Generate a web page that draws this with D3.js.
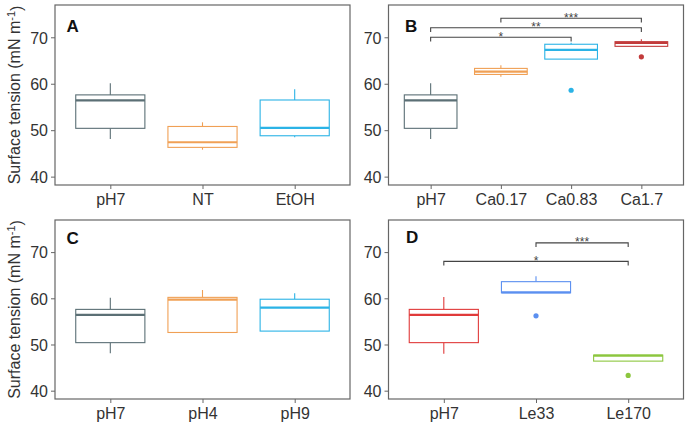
<!DOCTYPE html>
<html>
<head>
<meta charset="utf-8">
<script src="https://cdn.jsdelivr.net/npm/d3@7"></script>
<style>
  html, body { margin: 0; padding: 0; background: #fff; }
  svg { display: block; font-family: "Liberation Sans", Arial, sans-serif; }
</style>
</head>
<body>
<svg id="chart" width="685" height="424"></svg>
<script>
// ---------------- data ----------------
const yTicks = [40, 50, 60, 70];
const yDomain = [38.2, 76.95];

// five-number summaries: [lower whisker, Q1, median, Q3, upper whisker]
const catsA = ["pH7", "NT", "EtOH"];
const statsA = [[48.1, 50.4, 56.4, 57.6, 60.1], [45.8, 46.3, 47.4, 50.8, 51.7], [48.5, 48.8, 50.5, 56.5, 58.8]];
const outliersA = [[], [], []];

const catsB = ["pH7", "Ca0.17", "Ca0.83", "Ca1.7"];
const statsB = [[48.1, 50.4, 56.4, 57.6, 60.1], [61.5, 62.0, 62.6, 63.3, 64.0], [65.3, 65.3, 67.3, 68.5, 68.8], [68.0, 68.05, 68.8, 69.05, 69.6]];
const outliersB = [[], [], [58.6], [65.8]];
const bracketsB = [
  { from: "pH7", to: "Ca0.83", y: 70.0, label: "*" },
  { from: "pH7", to: "Ca1.7", y: 72.05, label: "**" },
  { from: "Ca0.17", to: "Ca1.7", y: 74.1, label: "***" }
];

const catsC = ["pH7", "pH4", "pH9"];
const statsC = [[48.1, 50.4, 56.4, 57.6, 60.1], [52.6, 52.6, 59.7, 60.2, 61.8], [52.9, 52.9, 58.0, 59.8, 61.1]];
const outliersC = [[], [], []];

const catsD = ["pH7", "Le33", "Le170"];
const statsD = [[48.0, 50.4, 56.4, 57.6, 60.3], [61.2, 61.2, 61.3, 63.6, 64.8], [46.4, 46.4, 47.6, 47.7, 47.8]];
const outliersD = [[], [56.2], [43.3]];
const bracketsD = [
  { from: "pH7", to: "Le170", y: 68.0, label: "*" },
  { from: "Le33", to: "Le170", y: 72.0, label: "***" }
];

const tipLength = 0.9; // bracket tip length in data units

// ---------------- styles ----------------
const colorsA = ["#5b6f75", "#f0a055", "#2bb3e6"];
const colorsB = ["#5b6f75", "#f0a055", "#2bb3e6", "#c23b3b"];
const colorsC = ["#5b6f75", "#f0a055", "#2bb3e6"];
const colorsD = ["#e03a3a", "#5b8ff0", "#8cc63e"];

const svg = d3.select("#chart");

function drawPanel(cfg) {
  const { left, right, top, bottom, cats, stats, outliers, colors, brackets, letter, letterDx, letterDy, yTitle } = cfg;
  const g = svg.append("g");
  const x = d3.scalePoint().domain(cats).range([left, right]).padding(0.6);
  const y = d3.scaleLinear().domain(yDomain).range([bottom, top]);
  const bw = x.step() * 0.75;

  // axes
  const yAxis = g.append("g").attr("transform", `translate(${left},0)`)
    .call(d3.axisLeft(y).tickValues(yTicks).tickSize(4).tickPadding(3));
  const xAxis = g.append("g").attr("transform", `translate(0,${bottom})`)
    .call(d3.axisBottom(x).tickSize(4).tickPadding(4));
  [yAxis, xAxis].forEach(a => {
    a.select(".domain").remove();
    a.selectAll(".tick line").attr("stroke", "#666").attr("stroke-width", 1);
    a.selectAll(".tick text").attr("fill", "#333").style("font-size", "16px")
      .style("font-family", "'Liberation Sans', Arial, sans-serif");
  });
  xAxis.selectAll(".tick text").attr("dy", "0.72em");
  yAxis.selectAll(".tick text").attr("dy", "0.36em");

  // boxes
  cats.forEach((c, i) => {
    const [lo, q1, med, q3, hi] = stats[i];
    const cx = x(c);
    const col = colors[i];
    const bg = g.append("g");
    bg.append("line").attr("x1", cx).attr("x2", cx).attr("y1", y(q3)).attr("y2", y(hi))
      .attr("stroke", col).attr("stroke-width", 1.1);
    bg.append("line").attr("x1", cx).attr("x2", cx).attr("y1", y(q1)).attr("y2", y(lo))
      .attr("stroke", col).attr("stroke-width", 1.1);
    bg.append("rect").attr("x", cx - bw / 2).attr("width", bw)
      .attr("y", y(q3)).attr("height", Math.max(0.5, y(q1) - y(q3)))
      .attr("fill", "#fff").attr("stroke", col).attr("stroke-width", 1.1);
    bg.append("line").attr("x1", cx - bw / 2).attr("x2", cx + bw / 2).attr("y1", y(med)).attr("y2", y(med))
      .attr("stroke", col).attr("stroke-width", 2.2);
    outliers[i].forEach(v => {
      bg.append("circle").attr("cx", cx).attr("cy", y(v)).attr("r", 2.6).attr("fill", col);
    });
  });

  // significance brackets
  (brackets || []).forEach(b => {
    const x1 = x(b.from), x2 = x(b.to), yy = y(b.y), yt = y(b.y - tipLength);
    g.append("path").attr("d", `M${x1},${yt}V${yy}H${x2}V${yt}`)
      .attr("fill", "none").attr("stroke", "#444").attr("stroke-width", 1.1);
    g.append("text").attr("x", (x1 + x2) / 2).attr("y", yy + 3.5)
      .attr("text-anchor", "middle").attr("fill", "#444")
      .style("font-size", "12px").text(b.label);
  });

  // panel border
  g.append("rect").attr("x", left).attr("y", top).attr("width", right - left).attr("height", bottom - top)
    .attr("fill", "none").attr("stroke", "#666").attr("stroke-width", 1.2);

  // panel letter
  g.append("text").attr("x", left + letterDx).attr("y", top + letterDy)
    .style("font-size", "17px").style("font-weight", "bold").attr("fill", "#111").text(letter);

  // y title
  if (yTitle) {
    const t = g.append("text")
      .attr("transform", `translate(20,${(top + bottom) / 2}) rotate(-90)`)
      .attr("text-anchor", "middle").attr("fill", "#333").style("font-size", "16px");
    t.append("tspan").text("Surface tension (mN m");
    t.append("tspan").attr("dy", "-0.45em").style("font-size", "11px").text("-1");
    t.append("tspan").attr("dy", "0.45em").text(")");
  }
}

drawPanel({ left: 55, right: 350, top: 5, bottom: 185, cats: catsA, stats: statsA, outliers: outliersA,
  colors: colorsA, brackets: [], letter: "A", letterDx: 11.5, letterDy: 27, yTitle: true });
drawPanel({ left: 388.5, right: 683.5, top: 5, bottom: 185, cats: catsB, stats: statsB, outliers: outliersB,
  colors: colorsB, brackets: bracketsB, letter: "B", letterDx: 16.5, letterDy: 27, yTitle: false });
drawPanel({ left: 55, right: 350, top: 220, bottom: 399, cats: catsC, stats: statsC, outliers: outliersC,
  colors: colorsC, brackets: [], letter: "C", letterDx: 11.5, letterDy: 23.5, yTitle: true });
drawPanel({ left: 388.5, right: 683.5, top: 220, bottom: 399, cats: catsD, stats: statsD, outliers: outliersD,
  colors: colorsD, brackets: bracketsD, letter: "D", letterDx: 17.5, letterDy: 22.5, yTitle: false });
</script>
</body>
</html>
